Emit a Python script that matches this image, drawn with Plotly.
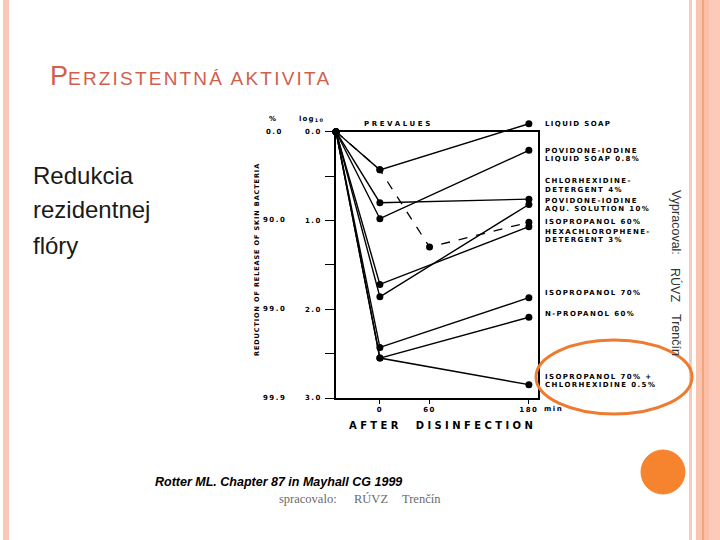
import plotly.graph_objects as go

W, H = 720, 540

# ---------------- data (log10 reduction of release of skin bacteria) ----------------
PRE_T = -53                      # "prevalues" position on the time axis (min)
times3 = [PRE_T, 0, 180]
times4 = [PRE_T, 0, 60, 180]

liquid_soap = [0.0, 0.43, -0.09]
pvp_soap = [0.0, 0.98, 0.21]
chx_det = [0.0, 0.80, 0.76]
pvp_aqu = [0.0, 1.86, 0.82]
iso60 = [0.0, 1.72, 1.07]
hexa_det = [0.0, 0.43, 1.30, 1.02]
iso70 = [0.0, 2.43, 1.87]
nprop60 = [0.0, 2.55, 2.09]
iso70_chx = [0.0, 2.55, 2.85]

x_tickvals = [0, 60, 180]
x_ticktext = ["0", "60", "180"]
y_tickvals = [0, 1, 2, 3]
y_ticktext = ["0.0", "1.0", "2.0", "3.0"]
pct_labels = ["0.0", "90.0", "99.0", "99.9"]
pct_vals = [0, 1, 2, 3]

label_lines = [
    ("LIQUID SOAP", 124),
    ("POVIDONE-IODINE", 151), ("LIQUID SOAP 0.8%", 159),
    ("CHLORHEXIDINE-", 181), ("DETERGENT 4%", 190),
    ("POVIDONE-IODINE", 201), ("AQU. SOLUTION 10%", 209),
    ("ISOPROPANOL 60%", 222),
    ("HEXACHLOROPHENE-", 232), ("DETERGENT 3%", 240),
    ("ISOPROPANOL 70%", 293),
    ("N-PROPANOL 60%", 314),
    ("ISOPROPANOL 70% +", 377), ("CHLORHEXIDINE 0.5%", 385),
]


def px(x, y):
    return x / W, 1 - y / H


def sp(text, ls):
    return f'<span style="letter-spacing:{ls}px">{text}</span>'


CH_FONT = dict(family="DejaVu Sans", size=7, color="black", weight="bold")

fig = go.Figure()

# frame subplot (x / y): visible axes, mirrored lines form the box
fig.add_trace(go.Scatter(x=[None], y=[None], mode="markers", xaxis="x",
                         yaxis="y", showlegend=False, hoverinfo="skip"))

# data subplot (x2 / y2): same pixel mapping, range extended above 0.0 so
# the point lying above the frame is still drawn
solid = [
    (times3, liquid_soap), (times3, pvp_soap), (times3, chx_det),
    (times3, pvp_aqu), (times3, iso60), (times3, iso70),
    (times3, nprop60), (times3, iso70_chx),
]
for xs, ys in solid:
    fig.add_trace(go.Scatter(
        x=xs, y=ys, mode="lines+markers", xaxis="x2", yaxis="y2",
        line=dict(color="black", width=1.4),
        marker=dict(color="black", size=7),
        cliponaxis=False, showlegend=False, hoverinfo="skip"))

fig.add_trace(go.Scatter(
    x=times4, y=hexa_det, mode="lines+markers", xaxis="x2", yaxis="y2",
    line=dict(color="black", width=1.3, dash="dash"),
    marker=dict(color="black", size=7),
    cliponaxis=False, showlegend=False, hoverinfo="skip"))

FR_L, FR_R, FR_T, FR_B = 336, 538, 131.7, 398
PX_PER_LOG = (FR_B - FR_T) / 3.0
Y_EXT = 0.15
x0d, _ = px(FR_L, 0)
x1d, _ = px(FR_R, 0)
_, ytop = px(0, FR_T)
_, ytop_ext = px(0, FR_T - Y_EXT * PX_PER_LOG)
_, ybot = px(0, FR_B)
X_RANGE = [PRE_T, 191]

fig.update_layout(
    template="none",
    width=W, height=H, margin=dict(l=0, r=0, t=0, b=0, pad=0, autoexpand=False),
    paper_bgcolor="white", plot_bgcolor="rgba(0,0,0,0)",
    xaxis=dict(domain=[x0d, x1d], range=X_RANGE, showgrid=False,
               automargin=False, anchor="y",
               zeroline=False, showline=True, mirror=True, linecolor="black",
               linewidth=1.5, ticks="outside", ticklen=4, tickwidth=1.2,
               tickcolor="black", tickvals=x_tickvals,
               ticktext=[sp(t, 1.5) for t in x_ticktext],
               tickfont=CH_FONT),
    yaxis=dict(domain=[ybot, ytop], range=[3, 0], showgrid=False,
               automargin=False, anchor="x",
               zeroline=False, showline=True, mirror=True, linecolor="black",
               linewidth=1.5, ticks="outside", ticklen=9,
               tickwidth=1.2, tickcolor="black", tickvals=y_tickvals,
               ticktext=[sp(t, 1.5) for t in y_ticktext],
               minor=dict(ticks="outside", ticklen=9, tickwidth=1.2,
                          tickcolor="black", tickvals=[0.5, 1.5, 2.5],
                          showgrid=False),
               tickfont=CH_FONT, ticklabelstandoff=2),
    xaxis2=dict(domain=[x0d, x1d], range=X_RANGE, visible=False,
                anchor="y2", automargin=False),
    yaxis2=dict(domain=[ybot, ytop_ext], range=[3, -Y_EXT], visible=False,
                anchor="x2", automargin=False),
)

ann = []


def add(text, x, y, xanchor="left", yanchor="middle", font=None, angle=0):
    ax, ay = px(x, y)
    ann.append(dict(text=text, x=ax, y=ay, xref="paper", yref="paper",
                    xanchor=xanchor, yanchor=yanchor, showarrow=False,
                    font=font or CH_FONT, textangle=angle))


for t, y in label_lines:
    add(sp(t, 1.4), 543, y)

add(sp("PREVALUES", 2.6), 398, 124, xanchor="center")
for t, v in zip(pct_labels, pct_vals):
    ann.append(dict(text=sp(t, 1.5), x=274 / W, y=v, xref="paper", yref="y",
                    xanchor="center", yanchor="middle", showarrow=False,
                    font=CH_FONT))
add(sp("%", 1), 273, 119, xanchor="center")
add(sp("log<sub>10</sub>", 1.2), 311, 119, xanchor="center")
add(sp("REDUCTION OF RELEASE OF SKIN BACTERIA", 0.9), 257, 260,
    xanchor="center", angle=-90, font=dict(family="DejaVu Sans", size=6.5,
                                           color="black", weight="bold"))
add(sp("AFTER  DISINFECTION", 3.4), 442, 425, xanchor="center",
    font=dict(family="DejaVu Sans", size=10, color="black", weight="bold"))
add(sp("min", 1.5), 542, 409)

# slide text
add('<span style="font-size:27px">P</span>' + sp("ERZISTENTNÁ AKTIVITA", 2.2),
    48, 76, font=dict(family="Liberation Sans", size=19, color="#D0604E"))
SL = dict(family="Liberation Sans", size=24, color="#1a1a1a")
add("Redukcia", 31, 175, font=SL)
add("rezidentnej", 31, 210, font=SL)
add("flóry", 31, 245, font=SL)

VF = dict(family="Liberation Sans", size=12.5, color="#333333")
add("Vypracoval:", 676, 222, xanchor="center", angle=90, font=VF)
add("RÚVZ", 676, 285, xanchor="center", angle=90, font=VF)
add("Trenčín", 676, 335, xanchor="center", angle=90, font=VF)

add("<b><i>Rotter ML. Chapter 87 in Mayhall CG 1999</i></b>", 153, 482,
    font=dict(family="Liberation Sans", size=12.5, color="black"))
GF = dict(family="Liberation Serif", size=12.5, color="#6a6a6a")
add("spracovalo:", 277, 499, font=GF)
add("RÚVZ", 352, 499, font=GF)
add("Trenčín", 400, 499, font=GF)

for a in ann:
    fig.add_annotation(**a)

shapes = []


# decorative slide borders and highlights
def rect(x0, x1, color):
    shapes.append(dict(type="rect", xref="paper", yref="paper",
                       x0=x0 / W, x1=x1 / W, y0=0, y1=1,
                       fillcolor=color, line=dict(width=0), layer="below"))


rect(3, 9, "#F9C9B8")
rect(689, 692, "#F4CBBE")
rect(696, 702, "#FBC4AF")
rect(702, 704, "#F2A47F")
rect(704, 709, "#FBBFA8")
rect(709, 720, "#FDCAB7")

ex0, ey1 = px(536, 340)
ex1, ey0 = px(692, 414)
shapes.append(dict(type="circle", xref="paper", yref="paper",
                   x0=ex0, x1=ex1, y0=ey0, y1=ey1,
                   line=dict(color="#EE7B2F", width=3)))
cx0, cy1 = px(641, 450)
cx1, cy0 = px(685, 494)
shapes.append(dict(type="circle", xref="paper", yref="paper",
                   x0=cx0, x1=cx1, y0=cy0, y1=cy1,
                   fillcolor="#F6842F", line=dict(color="#F6842F", width=1)))
fig.update_layout(shapes=shapes)

fig.write_html(
    "out.html",
    config={"displayModeBar": False},
    post_script="document.body.style.margin='0';document.body.style.overflow='hidden';",
)
